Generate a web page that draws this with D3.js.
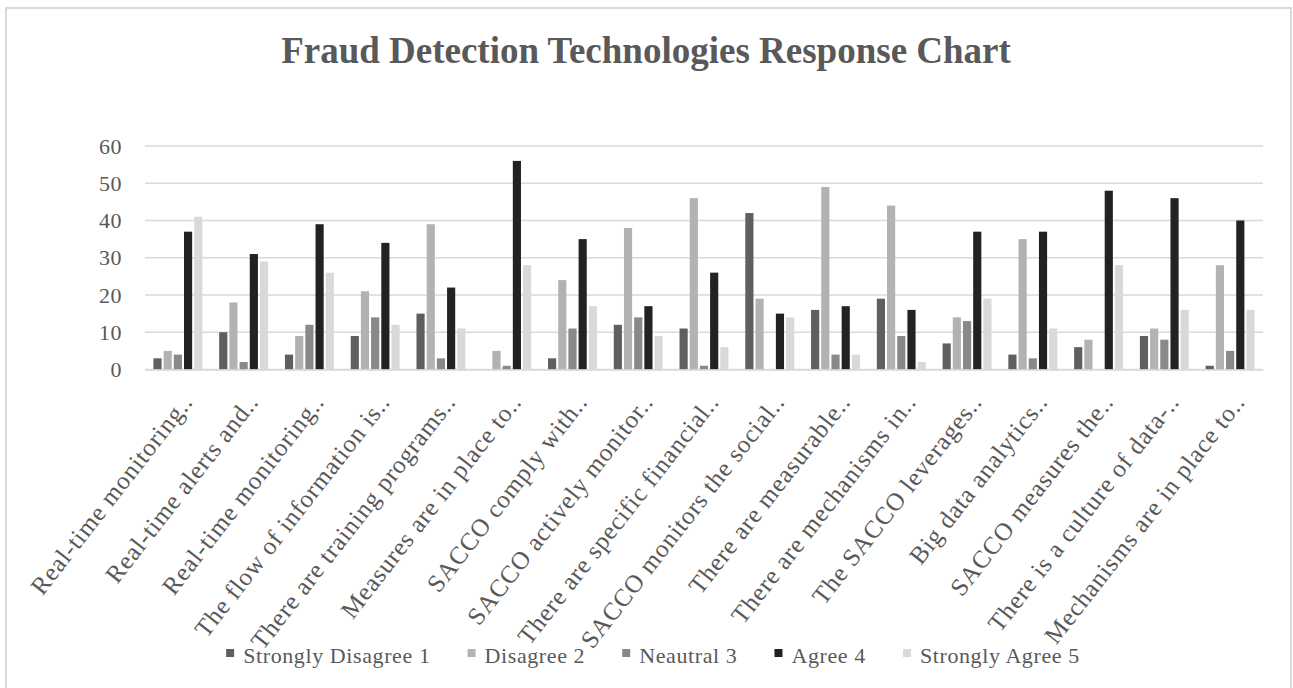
<!DOCTYPE html>
<html>
<head>
<meta charset="utf-8">
<script src="https://cdn.jsdelivr.net/npm/d3@7"></script>
<style>
  html, body { margin: 0; padding: 0; background: #ffffff; }
  svg { display: block; }
  text { font-family: "Liberation Serif", "Times New Roman", serif; fill: #595959; }
</style>
</head>
<body>
<svg id="chart" width="1293" height="688"></svg>
<script>
// Survey statements (truncated as shown on the axis)
const categories = [
  "Real-time monitoring..",
  "Real-time alerts and..",
  "Real-time monitoring..",
  "The flow of information is..",
  "There are training programs..",
  "Measures are in place to..",
  "SACCO comply with..",
  "SACCO actively monitor..",
  "There are specific financial..",
  "SACCO monitors the social..",
  "There are measurable..",
  "There are mechanisms in..",
  "The SACCO leverages..",
  "Big data analytics..",
  "SACCO measures the..",
  "There is a culture of data-..",
  "Mechanisms are in place to.."
];

const seriesNames = ["Strongly Disagree 1", "Disagree 2", "Neautral 3", "Agree 4", "Strongly Agree 5"];
const seriesColors = ["#5f5f5f", "#b2b2b2", "#898989", "#222222", "#d9d9d9"];

// Response counts per statement, one array per rating
const stronglyDisagree = [3, 10, 4, 9, 15, 0, 3, 12, 11, 42, 16, 19, 7, 4, 6, 9, 1];
const disagree         = [5, 18, 9, 21, 39, 5, 24, 38, 46, 19, 49, 44, 14, 35, 8, 11, 28];
const neutral          = [4, 2, 12, 14, 3, 1, 11, 14, 1, 0, 4, 9, 13, 3, 0, 8, 5];
const agree            = [37, 31, 39, 34, 22, 56, 35, 17, 26, 15, 17, 16, 37, 37, 48, 46, 40];
const stronglyAgree    = [41, 29, 26, 12, 11, 28, 17, 9, 6, 14, 4, 2, 19, 11, 28, 16, 16];

const yTicks = [0, 10, 20, 30, 40, 50, 60];

const seriesValues = [stronglyDisagree, disagree, neutral, agree, stronglyAgree];
const serif = "'Liberation Serif', 'Times New Roman', serif";

const svg = d3.select("#chart");

// Chart frame
svg.append("rect")
  .attr("x", 6).attr("y", 8)
  .attr("width", 1285).attr("height", 690)
  .attr("fill", "#ffffff")
  .attr("stroke", "#d9d9d9").attr("stroke-width", 2);

// Title
svg.append("text")
  .attr("x", 646).attr("y", 63)
  .attr("text-anchor", "middle")
  .style("font-size", "37px")
  .style("font-weight", "bold")
  .text("Fraud Detection Technologies Response Chart");

const plot = { left: 145, right: 1263, top: 146, bottom: 369.5 };

const x0 = d3.scaleBand()
  .domain(d3.range(categories.length))
  .range([plot.left, plot.right])
  .paddingInner(0.225)
  .paddingOuter(0.1125);

const x1 = d3.scaleBand()
  .domain(d3.range(seriesNames.length))
  .range([0, x0.bandwidth()])
  .paddingInner(0.2)
  .paddingOuter(0.1);

const y = d3.scaleLinear()
  .domain([0, 60])
  .range([plot.bottom, plot.top]);

// Horizontal gridlines
svg.append("g")
  .selectAll("line")
  .data(yTicks)
  .join("line")
  .attr("x1", plot.left).attr("x2", plot.right)
  .attr("y1", d => y(d)).attr("y2", d => y(d))
  .attr("stroke", "#d9d9d9").attr("stroke-width", 1.4);

// Y axis labels
const yAxis = d3.axisLeft(y).tickValues(yTicks).tickSize(0).tickPadding(0);
const yg = svg.append("g")
  .attr("transform", `translate(122,0)`)
  .call(yAxis)
  .attr("font-family", serif)
  .attr("font-size", 22);
yg.select(".domain").remove();
yg.selectAll("text")
  .style("font-family", serif)
  .style("font-size", "22px")
  .style("letter-spacing", "0.5px")
  .attr("fill", "#595959");

// Bars
const groups = svg.append("g")
  .selectAll("g")
  .data(categories.map((c, i) => i))
  .join("g")
  .attr("transform", i => `translate(${x0(i)},0)`);

groups.selectAll("rect")
  .data(i => seriesValues.map((vals, s) => ({ s, v: vals[i] })))
  .join("rect")
  .attr("x", d => x1(d.s))
  .attr("width", x1.bandwidth())
  .attr("y", d => y(d.v))
  .attr("height", d => y(0) - y(d.v))
  .attr("fill", d => seriesColors[d.s]);

// Category labels (rotated)
const xAxis = d3.axisBottom(x0).tickFormat(i => categories[i]).tickSize(0).tickPadding(0);
const xg = svg.append("g")
  .attr("transform", `translate(0,${plot.bottom})`)
  .call(xAxis)
  .attr("font-family", serif)
  .attr("font-size", 25);
xg.select(".domain")
  .attr("stroke", "#d9d9d9").attr("stroke-width", 1.4);
xg.selectAll("text")
  .style("font-family", serif)
  .style("font-size", "25px")
  .style("letter-spacing", "0.8px")
  .attr("fill", "#595959")
  .attr("text-anchor", "end")
  .attr("dy", "0")
  .attr("transform", "translate(16,33) rotate(-52)");

// Legend
const legend = svg.append("g");
const items = legend.selectAll("g")
  .data(seriesNames.map((n, i) => i))
  .join("g");
items.append("rect")
  .attr("width", 8).attr("height", 8)
  .attr("y", 649)
  .attr("fill", i => seriesColors[i]);
items.append("text")
  .attr("x", 17).attr("y", 663)
  .style("font-size", "22px")
  .style("letter-spacing", "0.6px")
  .text(i => seriesNames[i]);

let cursor = 0;
const offsets = [];
items.each(function(i) {
  offsets.push(cursor);
  const w = d3.select(this).select("text").node().getComputedTextLength();
  cursor += 17 + w + 37;
});
const totalW = cursor - 37;
const startX = 653 - totalW / 2;
items.attr("transform", (i, k) => `translate(${startX + offsets[k]},0)`);
</script>
</body>
</html>
